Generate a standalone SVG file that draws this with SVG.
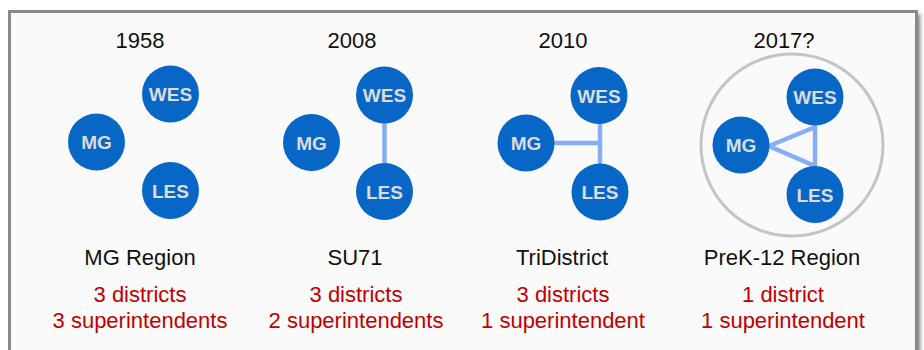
<svg xmlns="http://www.w3.org/2000/svg" width="924" height="350" viewBox="0 0 924 350">
<defs>
<filter id="sh" x="-5%" y="-5%" width="110%" height="110%"><feGaussianBlur stdDeviation="2"/></filter>
</defs>
<style>
.yr{font-family:"Liberation Sans",Arial,sans-serif;font-size:22px;fill:#111;text-anchor:middle}
.nm{font-family:"Liberation Sans",Arial,sans-serif;font-size:22px;fill:#111;text-anchor:middle}
.rd{font-family:"Liberation Sans",Arial,sans-serif;font-size:22px;fill:#c00000;text-anchor:middle}
.node circle{fill:#0866c6}
.node text{font-family:"Liberation Sans",Arial,sans-serif;font-size:19px;font-weight:bold;fill:#dcdcdc;text-anchor:middle}
.conn{stroke:#86aef5;stroke-width:4.5;fill:none}
</style>
<rect x="0" y="0" width="924" height="350" fill="#ffffff"/>
<rect x="13" y="14" width="907" height="350" fill="#7a7a7a" filter="url(#sh)"/>
<rect x="9.5" y="11.5" width="907" height="350" fill="#fafafa" stroke="#898989" stroke-width="3"/>
<g id="titles">
<text class="yr" x="140" y="48">1958</text>
<text class="yr" x="352" y="48">2008</text>
<text class="yr" x="563" y="48">2010</text>
<text class="yr" x="784" y="48">2017?</text>
</g>
<g id="region">
<circle cx="792" cy="145" r="91" fill="none" stroke="#c4c4c4" stroke-width="3"/>
</g>
<g id="connectors">
<line class="conn" x1="384.5" y1="120" x2="384.5" y2="166"/>
<polyline class="conn" points="553,143 600,143"/>
<line class="conn" x1="600" y1="122" x2="600" y2="167"/>
<polygon class="conn" points="769,146 815,127 815,166" stroke-linejoin="miter"/>
</g>
<g id="n1958-wes" class="node"><circle cx="170.5" cy="94" r="28.5"/><text x="170.5" y="101">WES</text></g>
<g id="n1958-mg" class="node"><circle cx="96.5" cy="142" r="28.5"/><text x="96.5" y="149">MG</text></g>
<g id="n1958-les" class="node"><circle cx="170.5" cy="190.5" r="28.5"/><text x="170.5" y="197.5">LES</text></g>
<g id="n2008-wes" class="node"><circle cx="384.5" cy="95" r="28.5"/><text x="384.5" y="102">WES</text></g>
<g id="n2008-mg" class="node"><circle cx="311.5" cy="142.5" r="28.5"/><text x="311.5" y="149.5">MG</text></g>
<g id="n2008-les" class="node"><circle cx="384.5" cy="191.5" r="28.5"/><text x="384.5" y="198.5">LES</text></g>
<g id="n2010-wes" class="node"><circle cx="599" cy="95.5" r="28.5"/><text x="599" y="102.5">WES</text></g>
<g id="n2010-mg" class="node"><circle cx="526" cy="143" r="28.5"/><text x="526" y="150">MG</text></g>
<g id="n2010-les" class="node"><circle cx="600" cy="192" r="28.5"/><text x="600" y="199">LES</text></g>
<g id="n2017-wes" class="node"><circle cx="815" cy="97" r="28.5"/><text x="815" y="104">WES</text></g>
<g id="n2017-mg" class="node"><circle cx="741" cy="145" r="28.5"/><text x="741" y="152">MG</text></g>
<g id="n2017-les" class="node"><circle cx="815" cy="194.5" r="28.5"/><text x="815" y="201.5">LES</text></g>
<g id="labels">
<text class="nm" x="140" y="265">MG Region</text>
<text class="nm" x="355" y="265">SU71</text>
<text class="nm" x="562" y="265">TriDistrict</text>
<text class="nm" x="782" y="265">PreK-12 Region</text>
<text class="rd" x="140" y="302">3 districts</text>
<text class="rd" x="140" y="328">3 superintendents</text>
<text class="rd" x="356" y="302">3 districts</text>
<text class="rd" x="356" y="328">2 superintendents</text>
<text class="rd" x="563" y="302">3 districts</text>
<text class="rd" x="563" y="328">1 superintendent</text>
<text class="rd" x="783" y="302">1 district</text>
<text class="rd" x="783" y="328">1 superintendent</text>
</g>
</svg>
